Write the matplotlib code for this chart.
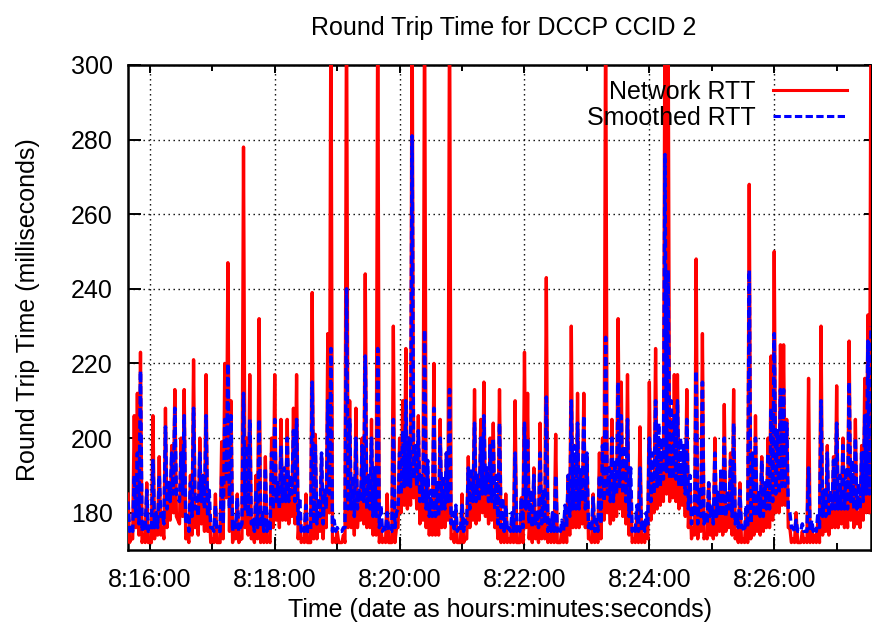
import datetime as dt
import numpy as np
import matplotlib
matplotlib.use('Agg')
import matplotlib.pyplot as plt
import matplotlib.dates as mdates
from matplotlib.ticker import FuncFormatter, MultipleLocator

plt.rcParams['font.family'] = ['Liberation Sans', 'DejaVu Sans']

# values (ms). peaks every 3 s starting 8:15:39,
# troughs sit half way between two peaks
start_time = dt.datetime(2007, 1, 1, 8, 15, 39)
half_step_s = 1.5

network_peaks = [
    185, 173, 206, 212, 223, 174, 188, 172, 206, 178,
    195, 176, 208, 184, 198, 213, 178, 200, 213, 174,
    190, 221, 180, 200, 186, 217, 182, 173, 185, 172,
    199, 220, 247, 210, 175, 185, 173, 278, 200, 217,
    175, 190, 232, 178, 195, 173, 200, 217, 186, 205,
    190, 205, 186, 208, 217, 180, 173, 185, 172, 239,
    201, 178, 195, 182, 228, 320, 173, 175, 172, 174,
    320, 210, 188, 208, 182, 200, 244, 186, 205, 190,
    320, 176, 173, 185, 172, 230, 176, 200, 210, 224,
    200, 320, 195, 206, 186, 320, 190, 182, 220, 184,
    205, 188, 196, 320, 174, 180, 172, 185, 173, 195,
    190, 213, 186, 205, 215, 188, 200, 204, 180, 213,
    176, 185, 173, 178, 210, 172, 184, 223, 212, 180,
    192, 176, 204, 185, 243, 174, 180, 201, 172, 176,
    180, 190, 230, 195, 212, 186, 212, 195, 173, 185,
    175, 196, 200, 320, 188, 205, 190, 232, 215, 194,
    217, 186, 173, 180, 203, 174, 178, 215, 190, 224,
    200, 195, 320, 320, 205, 217, 217, 192, 198, 213,
    186, 176, 248, 180, 228, 174, 188, 178, 200, 184,
    190, 209, 182, 196, 213, 175, 188, 173, 180, 268,
    180, 206, 185, 195, 182, 200, 222, 250, 200, 225,
    225, 205, 176, 173, 180, 172, 175, 173, 216, 176,
    174, 178, 230, 184, 198, 182, 195, 214, 186, 200,
    186, 226, 190, 205, 180, 198, 216, 233, 320,
]

network_troughs = [
    172, 173, 176, 174, 172, 172, 172, 172, 173, 174,
    174, 173, 176, 178, 180, 179, 177, 179, 173, 172,
    174, 176, 174, 177, 175, 175, 172, 172, 172, 172,
    173, 184, 175, 172, 173, 172, 173, 176, 174, 173,
    172, 173, 172, 172, 172, 172, 176, 178, 176, 178,
    178, 177, 179, 177, 173, 172, 172, 172, 172, 173,
    173, 175, 173, 176, 180, 172, 172, 172, 172, 172,
    176, 176, 174, 176, 178, 177, 176, 176, 174, 174,
    172, 172, 172, 172, 172, 172, 176, 180, 182, 181,
    182, 184, 181, 177, 178, 176, 174, 174, 174, 174,
    176, 176, 178, 173, 172, 172, 172, 172, 173, 176,
    178, 177, 178, 180, 179, 177, 178, 176, 173, 172,
    172, 172, 172, 172, 172, 172, 172, 176, 173, 172,
    173, 172, 173, 173, 172, 172, 172, 172, 172, 172,
    172, 174, 176, 176, 176, 177, 176, 173, 172, 172,
    172, 173, 178, 180, 177, 178, 179, 181, 179, 177,
    174, 172, 172, 172, 172, 172, 173, 178, 180, 181,
    182, 183, 185, 183, 184, 183, 181, 182, 179, 176,
    173, 174, 173, 175, 173, 173, 174, 173, 174, 175,
    174, 175, 176, 174, 173, 172, 172, 172, 172, 173,
    174, 175, 174, 175, 176, 176, 178, 180, 180, 182,
    182, 176, 172, 172, 172, 172, 172, 172, 172, 172,
    172, 172, 174, 175, 174, 176, 176, 176, 177, 176,
    176, 178, 176, 177, 176, 178, 180, 180,
]

smoothed_peaks = [
    183, 176, 190, 196, 218, 178, 186, 175, 194, 180,
    190, 180, 203, 188, 196, 208, 184, 196, 206, 180,
    188, 208, 184, 196, 190, 206, 186, 176, 182, 175,
    190, 205, 220, 206, 178, 184, 176, 212, 198, 205,
    178, 186, 205, 180, 192, 178, 196, 205, 188, 198,
    192, 200, 190, 202, 205, 184, 176, 182, 175, 215,
    198, 184, 196, 186, 210, 224, 178, 176, 175, 176,
    240, 205, 190, 200, 186, 198, 222, 190, 200, 192,
    224, 182, 176, 180, 175, 205, 180, 196, 202, 210,
    200, 281, 198, 202, 190, 229, 194, 186, 208, 188,
    200, 190, 196, 213, 180, 182, 176, 182, 178, 192,
    192, 204, 190, 200, 206, 192, 198, 200, 190, 204,
    184, 182, 176, 180, 196, 176, 184, 204, 200, 186,
    190, 180, 196, 186, 211, 178, 180, 190, 176, 178,
    182, 190, 210, 198, 204, 192, 206, 196, 178, 184,
    178, 190, 198, 227, 192, 200, 194, 215, 206, 198,
    205, 192, 176, 182, 192, 178, 180, 200, 196, 210,
    204, 200, 276, 245, 210, 206, 210, 200, 198, 205,
    190, 182, 218, 186, 215, 180, 188, 182, 196, 186,
    192, 200, 186, 194, 204, 180, 186, 176, 182, 245,
    196, 200, 186, 194, 188, 196, 208, 228, 202, 213,
    213, 204, 180, 176, 178, 175, 177, 175, 192, 178,
    176, 180, 210, 186, 196, 186, 194, 204, 190, 198,
    192, 215, 194, 200, 188, 196, 206, 226, 230,
]

smoothed_troughs = [
    175, 175, 179, 177, 175, 175, 175, 175, 176, 176,
    179, 177, 181, 183, 185, 185, 183, 185, 177, 175,
    179, 181, 179, 183, 181, 179, 176, 175, 175, 175,
    177, 189, 181, 175, 176, 175, 177, 181, 179, 177,
    175, 176, 176, 175, 175, 175, 181, 183, 181, 183,
    183, 183, 185, 183, 177, 175, 175, 175, 175, 177,
    177, 179, 177, 181, 185, 175, 175, 175, 175, 176,
    181, 181, 179, 181, 183, 183, 181, 181, 179, 179,
    176, 175, 175, 175, 175, 176, 181, 185, 187, 187,
    187, 189, 187, 183, 183, 181, 179, 179, 179, 179,
    181, 181, 183, 177, 175, 175, 175, 175, 177, 181,
    183, 183, 183, 185, 185, 183, 183, 181, 177, 176,
    175, 175, 175, 175, 175, 175, 176, 181, 177, 176,
    177, 176, 177, 177, 175, 175, 175, 175, 175, 175,
    176, 179, 181, 181, 181, 183, 181, 176, 175, 175,
    175, 177, 183, 185, 183, 183, 185, 187, 185, 183,
    179, 175, 175, 175, 175, 175, 177, 183, 185, 187,
    187, 189, 191, 189, 189, 189, 187, 187, 185, 181,
    177, 179, 177, 179, 177, 177, 179, 177, 179, 179,
    179, 179, 181, 179, 177, 176, 176, 175, 176, 177,
    179, 179, 179, 179, 181, 181, 183, 185, 185, 187,
    187, 181, 176, 175, 175, 175, 175, 175, 175, 175,
    175, 176, 179, 179, 179, 181, 181, 181, 181, 181,
    181, 183, 181, 181, 181, 183, 185, 185,
]


def interleave(peaks, troughs):
    out = []
    for i, p in enumerate(peaks):
        out.append(p)
        if i < len(troughs):
            out.append(troughs[i])
    return out


network_rtt = interleave(network_peaks, network_troughs)
smoothed_rtt = interleave(smoothed_peaks, smoothed_troughs)
times = [start_time + dt.timedelta(seconds=half_step_s * i) for i in range(len(network_rtt))]

fig = plt.figure(figsize=(8.72, 6.25), dpi=100)
ax = fig.add_axes([128 / 872, 1 - 550 / 625, 743 / 872, 485 / 625])

ax.plot(times, network_rtt, color='#ff0000', lw=2.4, label='Network RTT', zorder=3)
ax.plot(times, smoothed_rtt, color='#0000ff', lw=2.5, ls=(0, (2.4, 1.1)),
        label='Smoothed RTT', zorder=4)

ax.set_xlim(times[0], times[-1])
ax.set_ylim(170, 300)

# ticks: labelled every 2 minutes, small ticks every minute
ax.xaxis.set_major_locator(mdates.MinuteLocator(byminute=range(0, 60, 2)))
ax.xaxis.set_minor_locator(mdates.MinuteLocator())
ax.xaxis.set_major_formatter(FuncFormatter(
    lambda v, pos: '%d:%02d:%02d' % (mdates.num2date(v).hour, mdates.num2date(v).minute,
                                     mdates.num2date(v).second)))
ax.yaxis.set_major_locator(MultipleLocator(20))

ax.tick_params(axis='both', which='major', direction='in', length=9.5, width=1.4,
               labelsize=18, top=False, right=False)
ax.tick_params(axis='x', which='minor', direction='in', length=5, width=1.4, top=False)
ax.tick_params(axis='x', which='major', pad=13)
ax.tick_params(axis='y', which='major', pad=11)

# short mirrored ticks on top and right
top = ax.secondary_xaxis('top')
top.xaxis.set_major_locator(mdates.MinuteLocator(byminute=range(0, 60, 2)))
top.xaxis.set_minor_locator(mdates.MinuteLocator())
top.tick_params(which='major', direction='in', length=6, width=1.4, labeltop=False)
top.tick_params(which='minor', direction='in', length=4, width=1.4)
right = ax.secondary_yaxis('right')
right.yaxis.set_major_locator(MultipleLocator(20))
right.tick_params(direction='in', length=5, width=1.4, labelright=False)
for a in (top, right):
    for s in a.spines.values():
        s.set_visible(False)

for s in ax.spines.values():
    s.set_linewidth(1.8)

ax.grid(True, which='major', color='black', lw=1.0, ls=(0, (1, 2.6)))
ax.set_axisbelow(True)

ax.set_xlabel('Time (date as hours:minutes:seconds)', fontsize=18)
ax.xaxis.set_label_coords(0.5, -0.098)
ax.set_ylabel('Round Trip Time (milliseconds)', fontsize=18)
ax.yaxis.set_label_coords(-0.118, 0.495)

fig.text(504 / 872, 1 - 28 / 625, 'Round Trip Time for DCCP CCID 2', fontsize=18,
         ha='center', va='center')

leg = ax.legend(loc='upper right', bbox_to_anchor=((847 - 128) / 743, 0.97), frameon=False,
                fontsize=18, markerfirst=False, handlelength=2.95, handletextpad=0.7,
                labelspacing=0.08, borderpad=0, borderaxespad=0)
for line in leg.get_lines():
    line.set_linewidth(2.2)

fig.savefig('out.png', dpi=100)
